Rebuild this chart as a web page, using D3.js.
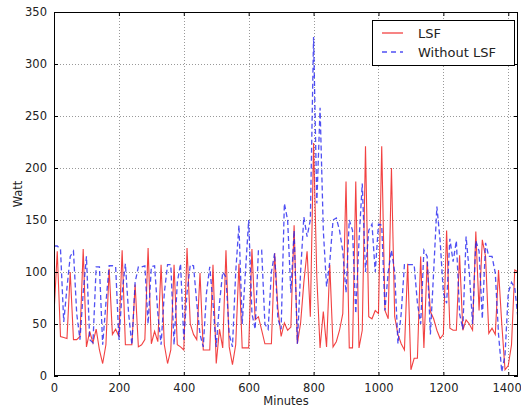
<!DOCTYPE html>
<html><head><meta charset="utf-8">
<script src="https://cdn.jsdelivr.net/npm/d3@7/dist/d3.min.js"></script>
<style>body{margin:0;background:#fff;} text{font-family:"DejaVu Sans",sans-serif;fill:#222;}</style>
</head><body>
<svg id="c" width="521" height="408"></svg>
<script>
// minutes 0..1430 step 10
const minutes = d3.range(0, 1440, 10);
const lsf = [60,120,38,37,36,100,35,35,38,122,28,43,32,45,25,12,30,103,40,45,
 38,121,30,30,30,88,28,30,35,123,31,43,33,107,30,12,25,107,30,28,
 25,123,50,40,35,99,25,25,25,107,12,45,27,121,28,11,30,108,27,27,
 27,122,54,57,44,31,31,31,118,65,38,51,44,47,145,31,51,90,120,57,
 224,95,27,62,28,107,28,33,44,60,187,27,27,187,27,44,221,57,55,63,
 60,221,63,55,200,57,40,31,25,108,6,17,17,115,27,110,62,55,44,36,
 40,140,46,44,44,116,44,54,50,44,139,63,131,115,41,46,40,102,50,6,
 10,30,102,100];
const withoutLsf = [125,125,122,52,85,115,120,60,35,80,115,35,32,105,105,30,70,106,106,105,
 35,80,108,60,30,90,105,105,106,50,105,106,60,30,80,107,107,30,90,108,
 35,80,107,106,70,40,28,80,105,70,28,70,100,95,40,28,100,145,50,100,
 150,60,45,121,121,50,45,100,118,55,45,166,150,80,140,31,100,153,134,150,
 326,166,258,140,86,110,150,152,140,120,80,150,140,60,130,185,100,140,146,100,
 146,145,63,100,121,100,31,60,107,107,107,107,70,50,121,115,40,100,163,130,
 80,70,132,110,130,60,45,134,100,50,130,120,55,128,115,115,99,40,4,20,
 80,90,85,55];
const xTicks = [0,200,400,600,800,1000,1200,1400];
const yTicks = [0,50,100,150,200,250,300,350];
const seriesNames = ["LSF","Without LSF"];

const svg = d3.select("#c");
const L=54, R=518, T=12, B=376;
const x = d3.scaleLinear().domain([0,1430]).range([L,R]);
const y = d3.scaleLinear().domain([0,350]).range([B,T]);

// grid
const g = svg.append("g");
g.selectAll(".gx").data(xTicks.filter(d=>d>0)).enter().append("line")
 .attr("x1",d=>Math.round(x(d))+0.5).attr("x2",d=>Math.round(x(d))+0.5).attr("y1",T).attr("y2",B)
 .attr("stroke","#999").attr("stroke-dasharray","1,2").attr("stroke-width",1);
g.selectAll(".gy").data(yTicks.filter(d=>d>0&&d<350)).enter().append("line")
 .attr("y1",d=>Math.round(y(d))+0.5).attr("y2",d=>Math.round(y(d))+0.5).attr("x1",L).attr("x2",R)
 .attr("stroke","#999").attr("stroke-dasharray","1,2").attr("stroke-width",1);

// lines
const data = minutes.map((m,i)=>({m, a:lsf[i], b:withoutLsf[i]}));
svg.append("clipPath").attr("id","cp").append("rect").attr("x",L).attr("y",T).attr("width",R-L).attr("height",B-T);
const lineA = d3.line().x(d=>x(d.m)).y(d=>y(d.a));
const lineB = d3.line().x(d=>x(d.m)).y(d=>y(d.b));
svg.append("path").datum(data).attr("d",lineA).attr("fill","none")
 .attr("stroke","#f02020").attr("stroke-width",1.1).attr("stroke-opacity",0.85).attr("clip-path","url(#cp)");
svg.append("path").datum(data).attr("d",lineB).attr("fill","none")
 .attr("stroke","#2424f0").attr("stroke-width",1.3).attr("stroke-opacity",0.8)
 .attr("stroke-dasharray","5,3").attr("clip-path","url(#cp)");

// frame
svg.append("rect").attr("x",L+0.5).attr("y",T+0.5).attr("width",R-L-1).attr("height",B-T-1)
 .attr("fill","none").attr("stroke","#000").attr("stroke-width",1);

// axes: ticks inward, all four sides
const fmt = d3.format("d");
const axB = d3.axisBottom(x).tickValues(xTicks).tickFormat(fmt).tickSizeInner(-4).tickSizeOuter(0).tickPadding(8);
const axL = d3.axisLeft(y).tickValues(yTicks).tickFormat(fmt).tickSizeInner(-4).tickSizeOuter(0).tickPadding(7);
const gb = svg.append("g").attr("transform",`translate(0,${B})`).call(axB);
const gl = svg.append("g").attr("transform",`translate(${L},0)`).call(axL);
const gt = svg.append("g").attr("transform",`translate(0,${T})`).call(d3.axisTop(x).tickValues(xTicks).tickSizeInner(-4).tickSizeOuter(0).tickFormat(""));
const gr = svg.append("g").attr("transform",`translate(${R},0)`).call(d3.axisRight(y).tickValues(yTicks).tickSizeInner(-4).tickSizeOuter(0).tickFormat(""));
[gb,gl,gt,gr].forEach(a=>{a.select(".domain").remove();a.selectAll("line").attr("stroke","#000");
 a.selectAll("text").style("font-size","11.5px").attr("fill","#222");});
// keep the last x label inside the window
gb.selectAll(".tick text").filter(d=>d===1400).attr("text-anchor","end").attr("x",13);

svg.append("text").attr("x",(L+R)/2).attr("y",405).attr("text-anchor","middle").style("font-size","11.5px").text("Minutes");
svg.append("text").attr("transform",`translate(22,${(T+B)/2}) rotate(-90)`).attr("text-anchor","middle").style("font-size","11.5px").text("Watt");

// legend
const lg = svg.append("g");
lg.append("rect").attr("x",372.5).attr("y",20.5).attr("width",142).attr("height",45).attr("fill","#fff").attr("stroke","#000");
lg.append("line").attr("x1",382).attr("x2",403).attr("y1",33).attr("y2",33).attr("stroke","#f02020").attr("stroke-width",1.1);
lg.append("line").attr("x1",382).attr("x2",403).attr("y1",52).attr("y2",52).attr("stroke","#2424f0").attr("stroke-width",1.3).attr("stroke-dasharray","5,4").attr("stroke-opacity",0.8);
lg.append("text").attr("x",418).attr("y",37.5).style("font-size","13px").text(seriesNames[0]);
lg.append("text").attr("x",418).attr("y",56.5).style("font-size","13px").text(seriesNames[1]);
</script>
</body></html>
